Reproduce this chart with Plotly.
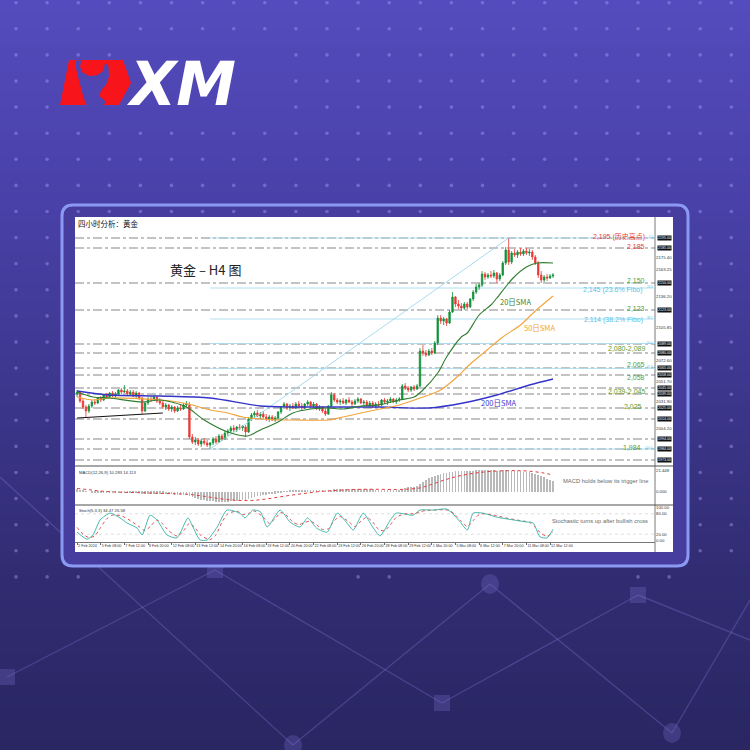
import plotly.graph_objects as go

# ------------------------------------------------------------------
# DATA  (H4 gold bars)
# ------------------------------------------------------------------
bar_open = [
    2039, 2041, 2032, 2026, 2022, 2027, 2031, 2030, 2035, 2033,
    2038, 2036, 2040, 2037, 2039, 2043, 2041, 2042, 2039, 2041,
    2037, 2040, 2035, 2022, 2030, 2034, 2033, 2036, 2032, 2030,
    2026, 2028, 2024, 2026, 2022, 2025, 2024, 2028, 2028, 1996,
    1991, 1993, 1989, 1992, 1990, 1988, 1990, 1994, 1991, 1997,
    1994, 2000, 2002, 2005, 2003, 2006, 2005, 2006, 2001, 2014,
    2018, 2020, 2017, 2019, 2016, 2014, 2016, 2013, 2015, 2021,
    2026, 2029, 2025, 2027, 2025, 2029, 2027, 2025, 2029, 2031,
    2027, 2029, 2024, 2026, 2022, 2019, 2027, 2038, 2033, 2031,
    2032, 2030, 2033, 2031, 2029, 2032, 2034, 2030, 2031, 2028,
    2030, 2027, 2029, 2028, 2033, 2031, 2032, 2034, 2031, 2033,
    2034, 2047, 2045, 2043, 2046, 2044, 2047, 2082, 2080, 2078,
    2082, 2080, 2090, 2115, 2112, 2114, 2110, 2121, 2136, 2129,
    2127, 2125, 2129, 2126, 2134, 2141, 2146, 2148, 2159, 2156,
    2158, 2157, 2160, 2154, 2158, 2170, 2183, 2171, 2180, 2178,
    2181, 2179, 2182, 2180, 2181, 2176, 2170, 2158, 2153, 2156,
    2155, 2157]
bar_high = [
    2043, 2042, 2035, 2028, 2029, 2033, 2034, 2036, 2037, 2039,
    2040, 2041, 2042, 2041, 2044, 2045, 2048, 2044, 2043, 2043,
    2042, 2041, 2036, 2031, 2036, 2037, 2038, 2037, 2035, 2032,
    2030, 2029, 2028, 2027, 2027, 2028, 2030, 2032, 2031, 1999,
    1996, 1995, 1994, 1995, 1993, 1991, 1996, 1997, 1999, 1999,
    2002, 2004, 2007, 2008, 2007, 2009, 2008, 2008, 2016, 2020,
    2022, 2023, 2021, 2022, 2019, 2018, 2018, 2017, 2022, 2027,
    2031, 2030, 2029, 2030, 2031, 2032, 2030, 2030, 2033, 2032,
    2031, 2030, 2028, 2027, 2025, 2028, 2041, 2040, 2035, 2034,
    2035, 2034, 2036, 2033, 2034, 2036, 2035, 2033, 2033, 2032,
    2032, 2031, 2032, 2034, 2035, 2034, 2036, 2035, 2035, 2036,
    2049, 2050, 2047, 2047, 2048, 2049, 2085, 2088, 2083, 2084,
    2085, 2092, 2118, 2118, 2116, 2115, 2123, 2141, 2137, 2133,
    2130, 2131, 2131, 2135, 2143, 2149, 2150, 2162, 2161, 2160,
    2162, 2163, 2161, 2160, 2172, 2186, 2195, 2182, 2184, 2183,
    2185, 2184, 2185, 2184, 2183, 2178, 2172, 2162, 2158, 2159,
    2159, 2160]
bar_low = [
    2036, 2030, 2024, 2015, 2020, 2025, 2028, 2029, 2031, 2032,
    2034, 2035, 2036, 2035, 2038, 2039, 2040, 2038, 2037, 2036,
    2035, 2033, 2019, 2021, 2028, 2031, 2032, 2030, 2028, 2024,
    2023, 2022, 2021, 2020, 2021, 2022, 2023, 2026, 1994, 1989,
    1988, 1987, 1986, 1988, 1986, 1984, 1988, 1989, 1990, 1992,
    1993, 1997, 2000, 2001, 2001, 2003, 2002, 1996, 2000, 2012,
    2015, 2016, 2014, 2015, 2012, 2011, 2012, 2011, 2014, 2019,
    2024, 2023, 2022, 2024, 2024, 2025, 2023, 2024, 2027, 2026,
    2025, 2023, 2022, 2020, 2017, 2018, 2026, 2031, 2029, 2028,
    2029, 2028, 2030, 2027, 2028, 2030, 2029, 2027, 2027, 2026,
    2025, 2025, 2026, 2027, 2029, 2028, 2030, 2030, 2029, 2031,
    2033, 2043, 2041, 2041, 2042, 2043, 2046, 2077, 2076, 2077,
    2078, 2079, 2088, 2109, 2108, 2107, 2109, 2120, 2126, 2124,
    2122, 2123, 2124, 2125, 2132, 2139, 2143, 2146, 2153, 2154,
    2155, 2155, 2150, 2152, 2157, 2168, 2168, 2169, 2176, 2175,
    2177, 2177, 2178, 2177, 2173, 2168, 2155, 2150, 2151, 2152,
    2154, 2155]
bar_close = [
    2041, 2032, 2026, 2022, 2027, 2031, 2030, 2035, 2033, 2038,
    2036, 2040, 2037, 2039, 2043, 2041, 2042, 2039, 2041, 2037,
    2040, 2035, 2022, 2030, 2034, 2033, 2036, 2032, 2030, 2026,
    2028, 2024, 2026, 2022, 2025, 2024, 2028, 2029, 1996, 1991,
    1993, 1989, 1992, 1990, 1988, 1990, 1994, 1991, 1997, 1994,
    2000, 2002, 2005, 2003, 2006, 2005, 2007, 2001, 2014, 2018,
    2020, 2017, 2019, 2016, 2014, 2016, 2013, 2015, 2021, 2026,
    2029, 2025, 2027, 2025, 2029, 2027, 2025, 2029, 2031, 2027,
    2029, 2024, 2026, 2022, 2019, 2027, 2038, 2033, 2031, 2032,
    2030, 2033, 2031, 2029, 2032, 2034, 2030, 2031, 2028, 2030,
    2027, 2029, 2028, 2033, 2031, 2032, 2034, 2031, 2033, 2034,
    2047, 2045, 2043, 2046, 2044, 2047, 2082, 2080, 2078, 2082,
    2080, 2090, 2115, 2112, 2114, 2110, 2121, 2136, 2129, 2127,
    2125, 2129, 2126, 2134, 2141, 2146, 2148, 2159, 2156, 2158,
    2157, 2160, 2154, 2158, 2170, 2183, 2171, 2180, 2178, 2181,
    2179, 2182, 2180, 2181, 2176, 2170, 2158, 2153, 2156, 2155,
    2157, 2158]
bar_idx = list(range(len(bar_close)))

date_tick_idx = [0, 8, 16, 24, 32, 40, 48, 56, 64, 72, 80,
                 88, 96, 104, 112, 120, 128, 136, 144, 152, 160]
date_tick_text = ["2 Feb 2024", "5 Feb 08:00", "7 Feb 12:00", "8 Feb 20:00",
                  "12 Feb 08:00", "13 Feb 12:00", "14 Feb 20:00", "16 Feb 08:00",
                  "19 Feb 12:00", "20 Feb 20:00", "22 Feb 08:00", "23 Feb 12:00",
                  "26 Feb 20:00", "28 Feb 08:00", "29 Feb 12:00", "1 Mar 20:00",
                  "5 Mar 08:00", "6 Mar 12:00", "7 Mar 20:00", "11 Mar 08:00",
                  "12 Mar 12:00"]

# moving averages (bar index, price)
sma20_x = [0, 5.4, 11, 22, 28, 37, 43, 51, 57.5, 62, 68, 73, 79, 85, 90, 96, 102,
           109, 114, 117, 122, 125, 130, 132, 136, 140, 142, 147.5, 152, 155.6, 161]
sma20_y = [2041, 2036, 2035, 2031, 2033, 2026, 2013, 2001, 1997, 2003, 2011, 2020, 2024,
           2025, 2024, 2027, 2028, 2033, 2036, 2043, 2060, 2076, 2096, 2100, 2118, 2128,
           2135, 2155, 2166, 2170, 2170]
sma50_x = [0, 5.4, 11, 28, 34, 39, 45, 51, 56, 62, 68, 73, 85, 90, 96, 102.5, 109,
           116, 123, 128.5, 133, 138.7, 144, 150, 155, 161]
sma50_y = [2036, 2033, 2035, 2033, 2031, 2028, 2023, 2020, 2016, 2014, 2013, 2013, 2013,
           2016, 2020, 2024, 2028, 2035, 2043, 2056, 2069, 2083, 2096, 2108, 2122, 2137]
sma200_x = [0, 11, 28, 45, 62, 73, 102.5, 119, 130.6, 142, 153, 161]
sma200_y = [2042, 2038, 2037, 2035, 2027, 2026, 2026, 2025, 2030, 2038, 2048, 2054]

# drawn trend line and Fibonacci swing
trend_x = [0, 29]
trend_y = [2015, 2020]
fib_x = [45, 146]
fib_y = [1984, 2195]
fib_levels = [2195, 2145, 2114, 2089.5, 2064.6, 1984]
fib_tags = ["0.0", "23.6", "38.2", "50.0", "61.8", "100.0"]

# horizontal support / resistance levels
levels = [2195, 2185, 2150, 2123, 2089, 2080, 2065, 2058, 2045, 2039,
          2025, 2014, 1994, 1984, 1973]
label_levels = [2195, 2185, 2150, 2145, 2123, 2114, 2084.5, 2065, 2058, 2042, 2025, 1984]
label_texts = ["2,195 (历史高点)", "2,185", "2,150", "2,145 (23.6% Fibo)", "2,123",
               "2,114 (38.2% Fibo)", "2,080-2,089", "2,065", "2,058", "2,039-2,045",
               "2,025", "1,984"]
label_kinds = ["r", "r", "g", "f", "g", "f", "g", "g", "g", "g", "g", "g"]
label_shift = [2, 2, 3, -2, 2, -1, 0, 4, -2, 0, 2, 2]
label_right = [647, 647, 647, 645, 647, 645, 647, 647, 647, 647, 644, 643]

price_ticks = [2207.89, 2175.40, 2163.25, 2136.20, 2105.85, 2072.60, 2051.70,
               2031.90, 2004.20]

# MACD (12,26,9): main (histogram) per bar, signal sampled
macd_main = [
    2.5, 2.2, 1.5, 0.6, 0.0, -0.4, -0.6, -0.7, -0.8, -0.8,
    -0.9, -0.9, -0.8, -0.7, -0.6, -0.5, -0.4, -0.5, -0.6, -0.7,
    -0.8, -1.2, -1.8, -1.9, -1.8, -1.6, -1.5, -1.5, -1.6, -1.8,
    -2.0, -2.2, -2.4, -2.6, -2.8, -2.9, -2.9, -2.8, -4.0, -5.2,
    -6.2, -7.0, -7.6, -8.1, -8.6, -9.0, -9.3, -9.5, -9.7, -9.8,
    -9.8, -9.6, -9.3, -8.9, -8.5, -8.0, -7.6, -7.4, -6.5, -5.6,
    -4.8, -4.2, -3.6, -3.1, -2.7, -2.4, -2.1, -1.8, -1.2, -0.5,
    0.2, 0.6, 1.0, 1.3, 1.6, 1.8, 1.9, 2.0, 2.2, 2.3,
    2.3, 2.2, 2.1, 1.9, 1.6, 1.6, 2.2, 2.6, 2.8, 2.9,
    3.0, 3.0, 3.0, 2.9, 2.9, 2.9, 2.8, 2.8, 2.7, 2.6,
    2.5, 2.4, 2.3, 2.3, 2.3, 2.3, 2.3, 2.3, 2.3, 2.4,
    3.3, 4.0, 4.5, 4.9, 5.2, 5.5, 8.0, 10.2, 11.9, 13.3,
    14.4, 15.4, 17.0, 17.9, 18.6, 19.0, 19.4, 20.0, 20.3, 20.4,
    20.4, 20.3, 20.4, 20.6, 20.9, 21.1, 21.2, 21.3, 21.4, 21.4,
    21.3, 21.2, 21.0, 20.9, 21.1, 21.4, 21.2, 21.0, 20.8, 20.6,
    20.3, 20.0, 19.7, 19.3, 18.8, 18.0, 16.8, 15.5, 14.2, 13.0,
    11.9, 11.0]
macd_sig_x = [0, 4, 8, 14, 20, 26, 32, 38, 42, 46, 50, 54, 58, 62, 66, 70, 74, 78, 82,
              86, 90, 96, 102, 108, 112, 116, 120, 124, 128, 132, 136, 140, 146, 150,
              154, 158, 161]
macd_sig_y = [3.5, 2.2, 0.9, -0.2, -0.6, -1.2, -1.7, -2.4, -3.8, -5.6, -7.2, -8.2, -8.4,
              -7.6, -6.0, -4.2, -2.5, -1.0, 0.4, 1.2, 1.9, 2.6, 2.6, 2.4, 2.8, 4.0, 7.5,
              11.5, 14.8, 17.3, 19.0, 20.2, 20.9, 20.8, 20.1, 18.5, 16.6]

# Stochastic (5,3,3)
stoch_k_x = [0, 3.4, 5.4, 7.8, 11.2, 14.5, 16.9, 20.3, 22, 24.7, 27, 30.4, 33.8, 37.5,
             39.2, 41.6, 44, 47.4, 50.7, 55, 56.8, 59.5, 62, 64.3, 68.7, 72, 75.4, 78,
             81, 84.6, 88, 91.3, 93.4, 96.8, 100, 102.5, 106, 108, 113.7, 116, 120.4,
             125, 126.9, 129.6, 132, 134, 137.3, 142, 147.5, 152, 154.3, 156.6, 159, 161]
stoch_k_y = [26, 5, 18, 62, 82, 68, 53, 38, 18, 76, 62, 18, 9, 68, 41, 3, 3, 41, 91, 82,
             68, 91, 86, 41, 91, 56, 41, 68, 38, 26, 82, 53, 32, 82, 41, 15, 62, 82, 76,
             91, 91, 94, 82, 56, 32, 82, 82, 70, 62, 56, 53, 12, 9, 34.5]
stoch_d_x = [0, 2, 4, 6, 8, 10, 12, 15, 18, 21, 23, 25, 27, 29, 31, 34, 36, 38, 40, 42,
             45, 47, 49, 51, 54, 56, 58, 60, 63, 65, 67, 69, 71, 73, 75, 77, 79, 81, 83,
             85, 87, 89, 92, 94, 96, 98, 100, 102, 104, 106, 108, 111, 114, 116, 118,
             121, 124, 126, 128, 130, 132, 134, 136, 138, 142, 146, 150, 153, 155, 157,
             159, 161]
stoch_d_y = [40, 20, 10, 15, 40, 65, 76, 74, 60, 42, 30, 45, 62, 50, 30, 14, 30, 52, 38,
             15, 4, 18, 55, 80, 88, 78, 80, 88, 70, 52, 66, 84, 74, 56, 48, 55, 58, 48,
             34, 36, 60, 72, 56, 42, 58, 70, 56, 34, 30, 48, 70, 80, 80, 86, 90, 91, 92,
             90, 76, 58, 42, 60, 78, 80, 74, 66, 60, 55, 40, 22, 14, 26.6]

# ------------------------------------------------------------------
# helpers (pixel -> paper)
# ------------------------------------------------------------------
W = H = 750


def px(x):
    return x / W


def py(y):
    return 1 - y / H


FONT = "Liberation Sans, Noto Sans CJK SC, sans-serif"
CJK = "Noto Sans CJK SC, Liberation Sans, sans-serif"

shapes = []
annotations = []

# ---- background gradient ----
stops = [(0, (84, 75, 190)), (200, (73, 65, 168)), (400, (60, 54, 140)),
         (560, (50, 45, 116)), (750, (41, 38, 98))]


def grad(y):
    for (y0, c0), (y1, c1) in zip(stops[:-1], stops[1:]):
        if y0 <= y <= y1:
            t = (y - y0) / (y1 - y0)
            return "rgb(%d,%d,%d)" % tuple(round(a + (b - a) * t) for a, b in zip(c0, c1))
    return "rgb(41,38,98)"


for y0 in range(0, 750, 6):
    shapes.append(dict(type="rect", xref="paper", yref="paper", x0=0, x1=1,
                       y0=py(y0 + 6.5), y1=py(y0), fillcolor=grad(y0 + 3),
                       line=dict(width=0), layer="below"))

# ---- network decoration at the bottom ----
net_col = "rgba(125,115,205,0.35)"
segs = [((7, 677), (215, 570)), ((215, 570), (442, 703)), ((0, 477), (293, 745)),
        ((293, 745), (490, 584)), ((490, 584), (672, 733)), ((442, 703), (638, 595)),
        ((638, 595), (750, 640)), ((672, 733), (750, 600))]
for (xa, ya), (xb, yb) in segs:
    shapes.append(dict(type="line", xref="paper", yref="paper", x0=px(xa), y0=py(ya),
                       x1=px(xb), y1=py(yb), line=dict(color=net_col, width=1.4),
                       layer="below"))
node_fill = "rgba(120,110,200,0.30)"
for (cx, cy) in [(215, 570), (7, 677), (442, 703), (638, 595)]:
    shapes.append(dict(type="rect", xref="paper", yref="paper", x0=px(cx - 8),
                       x1=px(cx + 8), y0=py(cy + 8), y1=py(cy - 8),
                       fillcolor=node_fill, line=dict(width=0), layer="below"))
for (cx, cy) in [(490, 584), (293, 745), (672, 733)]:
    shapes.append(dict(type="circle", xref="paper", yref="paper", x0=px(cx - 9),
                       x1=px(cx + 9), y0=py(cy + 10), y1=py(cy - 10),
                       fillcolor=node_fill, line=dict(width=0), layer="below"))


# ---- card ----
def rrect(x0, y0, x1, y1, r):
    X0, X1, Y0, Y1 = px(x0), px(x1), py(y0), py(y1)
    rx, ry = r / W, r / H
    return (f"M {X0+rx},{Y0} L {X1-rx},{Y0} Q {X1},{Y0} {X1},{Y0-ry} "
            f"L {X1},{Y1+ry} Q {X1},{Y1} {X1-rx},{Y1} L {X0+rx},{Y1} "
            f"Q {X0},{Y1} {X0},{Y1+ry} L {X0},{Y0-ry} Q {X0},{Y0} {X0+rx},{Y0} Z")


shapes.append(dict(type="path", xref="paper", yref="paper",
                   path=rrect(62, 205, 688, 566, 11), fillcolor="#463d9f",
                   line=dict(color="#8c99f3", width=3), layer="below"))
shapes.append(dict(type="rect", xref="paper", yref="paper", x0=px(75), x1=px(673),
                   y0=py(552), y1=py(217), fillcolor="white", line=dict(width=0),
                   layer="below"))
# panel separators / frame
for yy in (466, 505):
    shapes.append(dict(type="line", xref="paper", yref="paper", x0=px(75), x1=px(673),
                       y0=py(yy), y1=py(yy), line=dict(color="#8a8a8a", width=1.4),
                       layer="below"))
shapes.append(dict(type="line", xref="paper", yref="paper", x0=px(655), x1=px(655),
                   y0=py(552), y1=py(217), line=dict(color="#555", width=0.8),
                   layer="below"))


# ---- XM logo ----
def poly(pts):
    return "M " + " L ".join(f"{px(x)},{py(y)}" for x, y in pts) + " Z"


shapes.append(dict(type="path", xref="paper", yref="paper",
                   path=poly([(69, 60), (123, 60), (131, 83), (119, 105), (60, 105)]),
                   fillcolor="#f7141b", line=dict(width=0), layer="below"))
shapes.append(dict(type="path", xref="paper", yref="paper",
                   path=poly([(76, 60.5), (81.3, 60.5), (80, 66.7), (82.7, 72.7),
                              (89.3, 76), (97.3, 75.3), (103.3, 70.7), (105.3, 62),
                              (108.5, 66.7), (109, 76.7), (106, 85), (101.3, 90),
                              (99.3, 96), (106, 101.7), (103, 105.5), (86.7, 105.5),
                              (83.3, 96.7), (80.7, 86.7), (78, 76.7), (76, 68.3)]),
                   fillcolor="#4f45b3", line=dict(width=0), layer="below"))
annotations.append(dict(xref="paper", yref="paper", x=px(181), y=py(84),
                        xanchor="center", yanchor="middle", showarrow=False,
                        text="<b><i>XM</i></b>",
                        font=dict(family="DejaVu Sans", size=60, color="white")))

# ---- level lines ----
for lv in levels:
    shapes.append(dict(type="line", xref="paper", yref="y", x0=px(75), x1=px(655),
                       y0=lv, y1=lv, line=dict(color="#555", width=0.7, dash="dashdot"),
                       layer="below"))
for lv in fib_levels:
    shapes.append(dict(type="line", xref="x", yref="y", x0=fib_x[0], x1=195.5,
                       y0=lv, y1=lv, line=dict(color="#a9dbf0", width=0.9),
                       layer="below"))
for lv in [80, 20]:
    shapes.append(dict(type="line", xref="paper", yref="y3", x0=px(75), x1=px(655),
                       y0=lv, y1=lv, line=dict(color="#c8c8c8", width=0.6, dash="dot"),
                       layer="below"))

# ---- level labels ----
kind_col = {"r": "#e8413a", "g": "#5b9e34", "f": "#5cc0e8"}
for lv, tx, kd, sh, rx in zip(label_levels, label_texts, label_kinds, label_shift,
                              label_right):
    annotations.append(dict(xref="paper", yref="y", x=px(rx), y=lv, xanchor="right",
                            yanchor="middle", yshift=sh, showarrow=False, text=tx,
                            font=dict(family=FONT, size=7, color=kind_col[kd])))
for lv, tg in zip(fib_levels, fib_tags):
    annotations.append(dict(xref="paper", yref="y", x=px(654.5), y=lv, xanchor="right",
                            yanchor="middle", yshift=1, showarrow=False, text=tg,
                            font=dict(family=FONT, size=2.9, color="#5cc0e8")))
for lv in levels:
    annotations.append(dict(xref="paper", yref="y", x=px(656.5), y=lv, xanchor="left",
                            yanchor="middle", showarrow=False, text=f"{lv:.2f}",
                            bgcolor="#111", borderpad=0,
                            font=dict(family=FONT, size=3.6, color="white")))

# ---- other texts ----
annotations += [
    dict(xref="paper", yref="paper", x=px(76), y=py(223), xanchor="left",
         yanchor="middle", showarrow=False, text="四小时分析：黄金",
         font=dict(family=CJK, size=7.5, color="#111")),
    dict(xref="paper", yref="paper", x=px(205), y=py(269), xanchor="center",
         yanchor="middle", showarrow=False, text="黄金 – H4 图",
         font=dict(family=CJK, size=13, color="#222")),
    dict(xref="x", yref="y", x=142.5, y=2132, xanchor="left", yanchor="middle",
         showarrow=False, text="20日SMA", font=dict(family=CJK, size=7.5, color="#3c7f2c")),
    dict(xref="x", yref="y", x=150.5, y=2106, xanchor="left", yanchor="middle",
         showarrow=False, text="50日SMA", font=dict(family=CJK, size=7.5, color="#f1a235")),
    dict(xref="x", yref="y", x=136, y=2031, xanchor="left", yanchor="middle",
         showarrow=False, text="200日SMA", font=dict(family=CJK, size=7.5, color="#3b3bd0")),
    dict(xref="paper", yref="paper", x=px(77), y=py(472), xanchor="left",
         yanchor="middle", showarrow=False, text="MACD(12,26,9) 10.283 14.113",
         font=dict(family=FONT, size=4.2, color="#333")),
    dict(xref="paper", yref="paper", x=px(77), y=py(510), xanchor="left",
         yanchor="middle", showarrow=False, text="Stoch(5,3,3) 34.47 26.58",
         font=dict(family=FONT, size=4.2, color="#333")),
    dict(xref="paper", yref="paper", x=px(650), y=py(481), xanchor="right",
         yanchor="middle", showarrow=False, text="MACD holds below its trigger line",
         font=dict(family=FONT, size=5.8, color="#6a6a6a")),
    dict(xref="paper", yref="paper", x=px(650), y=py(521), xanchor="right",
         yanchor="middle", showarrow=False,
         text="Stochastic turns up after bullish cross",
         font=dict(family=FONT, size=5.8, color="#6a6a6a")),
]

# ---- background dots ----
dot_x, dot_y = [], []
for r in range(23):
    yy = 2.7 + 26.1 * r
    for k in range(24):
        xx = 16 + 31.1 * k
        if 74 <= xx <= 674 and 215 <= yy <= 553:
            continue
        if 55 <= xx <= 272 and 56 <= yy <= 110:
            continue
        if 118 <= xx <= 272 and 45 <= yy <= 112:
            continue
        if r == 22 and k not in (0, 1, 2, 11, 12, 20, 21):
            continue
        dot_x.append(xx)
        dot_y.append(yy)

# ------------------------------------------------------------------
# FIGURE
# ------------------------------------------------------------------
fig = go.Figure()
fig.add_trace(go.Candlestick(
    x=bar_idx, open=bar_open, high=bar_high, low=bar_low, close=bar_close,
    increasing=dict(line=dict(color="#12923a", width=0.8), fillcolor="#12923a"),
    decreasing=dict(line=dict(color="#ea3a35", width=0.8), fillcolor="#ea3a35"),
    whiskerwidth=0, hoverinfo="skip", xaxis="x", yaxis="y"))
fig.add_trace(go.Scatter(x=trend_x, y=trend_y, mode="lines",
                         line=dict(color="#111", width=1), xaxis="x", yaxis="y"))
fig.add_trace(go.Scatter(x=fib_x, y=fib_y, mode="lines",
                         line=dict(color="#9fd6ee", width=0.9), xaxis="x", yaxis="y"))
fig.add_trace(go.Scatter(x=sma200_x, y=sma200_y, mode="lines",
                         line=dict(color="#3434c8", width=1.3, shape="spline", smoothing=0.8),
                         xaxis="x", yaxis="y"))
fig.add_trace(go.Scatter(x=sma50_x, y=sma50_y, mode="lines",
                         line=dict(color="#f2a33a", width=1.1, shape="spline", smoothing=0.8),
                         xaxis="x", yaxis="y"))
fig.add_trace(go.Scatter(x=sma20_x, y=sma20_y, mode="lines",
                         line=dict(color="#2f7d2f", width=1.1, shape="spline", smoothing=0.8),
                         xaxis="x", yaxis="y"))
fig.add_trace(go.Bar(x=bar_idx, y=macd_main, width=0.22,
                     marker=dict(color="#b9b9b9", line=dict(width=0)),
                     xaxis="x", yaxis="y2"))
fig.add_trace(go.Scatter(x=macd_sig_x, y=macd_sig_y, mode="lines",
                         line=dict(color="#e23b3b", width=1, dash="dot", shape="spline"),
                         xaxis="x", yaxis="y2"))
fig.add_trace(go.Scatter(x=stoch_d_x, y=stoch_d_y, mode="lines",
                         line=dict(color="#e23b3b", width=0.9, dash="dot", shape="spline",
                                   smoothing=0.6), xaxis="x", yaxis="y3"))
fig.add_trace(go.Scatter(x=stoch_k_x, y=stoch_k_y, mode="lines",
                         line=dict(color="#2fb4a6", width=0.9, shape="spline",
                                   smoothing=0.6), xaxis="x", yaxis="y3"))
fig.add_trace(go.Scatter(x=dot_x, y=dot_y, mode="markers",
                         marker=dict(size=3.6, color="rgba(165,155,245,0.45)"),
                         xaxis="x4", yaxis="y4", hoverinfo="skip"))

small = dict(family=FONT, size=4.3, color="#333")
fig.update_layout(
    template="none",
    width=W, height=H, margin=dict(l=0, r=0, t=0, b=0),
    paper_bgcolor="rgb(84,75,190)", plot_bgcolor="rgba(0,0,0,0)",
    showlegend=False, font=dict(family=FONT),
    shapes=shapes, annotations=annotations, bargap=0,
    xaxis=dict(domain=[px(75), px(655)], range=[-0.7, 195.5], anchor="y3",
               showgrid=False, zeroline=False, tickvals=date_tick_idx,
               ticktext=date_tick_text, tickfont=dict(family=FONT, size=3.7, color="#333"),
               tickangle=0, ticks="outside", ticklen=2,
               tickcolor="#666", showline=True, linecolor="#777", linewidth=1,
               ticklabelposition="outside right", rangeslider=dict(visible=False),
               automargin=False, fixedrange=True),
    yaxis=dict(domain=[py(465), py(228)], range=[1968, 2205], anchor="x", side="right",
               showgrid=False, zeroline=False, tickvals=price_ticks,
               ticktext=[f"{v:.2f}" for v in price_ticks], tickfont=small, ticks="",
               automargin=False, fixedrange=True),
    yaxis2=dict(domain=[py(504), py(468)], range=[-11.8, 23.5], anchor="x", side="right",
                showgrid=False, zeroline=False, tickvals=[21.448, 0, -11.907],
                ticktext=["21.448", "0.000", "-11.907"], tickfont=small, ticks="",
                automargin=False, fixedrange=True),
    yaxis3=dict(domain=[py(542), py(507)], range=[-3, 100], anchor="x", side="right",
                showgrid=False, zeroline=False, tickvals=[100, 80, 20, 0],
                ticktext=["100.00", "80.00", "20.00", "0.00"], tickfont=small, ticks="",
                automargin=False, fixedrange=True),
    xaxis4=dict(domain=[0, 1], range=[0, 750], anchor="y4", visible=False,
                fixedrange=True),
    yaxis4=dict(domain=[0, 1], range=[750, 0], anchor="x4", visible=False,
                fixedrange=True),
)

fig.write_html("out.html", config={"displayModeBar": False},
               post_script="document.body.style.margin='0';"
                           "document.body.style.overflow='hidden';")
